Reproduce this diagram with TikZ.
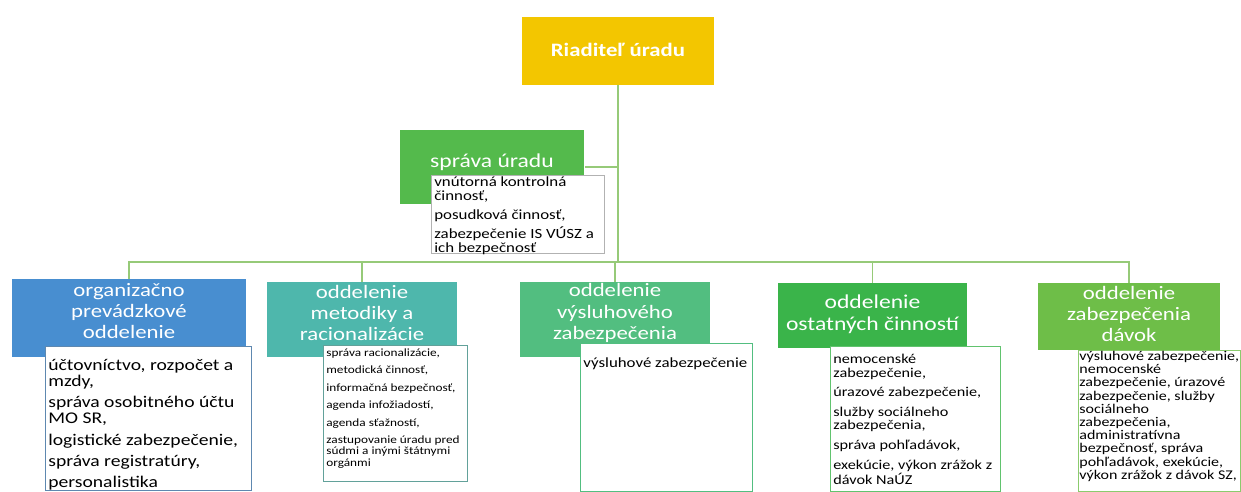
\documentclass[tikz,border=0pt]{standalone}
\usepackage{fontspec}
\setmainfont{Carlito}[FakeStretch=1.2]
\usetikzlibrary{positioning}

\definecolor{bossyellow}{RGB}{243,198,0}
\definecolor{sprgreen}{RGB}{84,186,76}
\definecolor{opoblue}{RGB}{72,142,208}
\definecolor{omrteal}{RGB}{78,183,172}
\definecolor{ovzgreen}{RGB}{82,190,128}
\definecolor{oocgreen}{RGB}{58,180,74}
\definecolor{ozdgreen}{RGB}{110,190,72}
\definecolor{linkgreen}{RGB}{150,202,120}

\tikzset{
  unit/.style={rectangle, inner sep=0pt},
  title/.style={text=white, align=center, inner sep=0pt, font=\fontsize{10.8}{12.2}\selectfont},
  sub/.style={rectangle, draw, fill=white, line width=0.6pt, inner sep=0pt, anchor=north west},
  items/.style={align=left, inner sep=0pt, anchor=north west},
  link/.style={draw=linkgreen, line width=0.8pt}
}

\begin{document}
\begin{tikzpicture}[x=0.02cm, y=-0.02cm]
  \fill[white] (0,0) rectangle (1241,491);
  \useasboundingbox (0,0) rectangle (1241,491);

  % vedenie
  \node[unit, fill=bossyellow, minimum width=3.84cm, minimum height=1.36cm] (boss) at (618,51) {};
  \node[title, font=\bfseries\fontsize{10.8}{12}\selectfont] (boss-t) at (618,50) {Riaditeľ úradu};

  \node[unit, fill=sprgreen, minimum width=3.7cm, minimum height=1.48cm] (spr) at (492,167) {};
  \node[title, font=\fontsize{11.2}{13}\selectfont] (spr-t) at (492,162) {správa úradu};
  \node[sub, draw=gray!60, minimum width=3.46cm, minimum height=1.56cm] (spr-w) at (431,175) {};
  \node[items, font=\fontsize{8}{8}\selectfont] (spr-l) [below right=0.2mm and 0.6mm of spr-w.north west]
    {vnútorná kontrolná\\činnosť,\\[3pt]posudková činnosť,\\[3pt]zabezpečenie IS VÚSZ a\\ich bezpečnosť};

  % oddelenia
  \node[unit, fill=opoblue, minimum width=4.68cm, minimum height=1.56cm] (opo) at (129,318) {};
  \node[title] (opo-t) at (129,311) {organizačno\\prevádzkové\\oddelenie};
  \node[sub, draw=opoblue!60!gray, minimum width=4.12cm, minimum height=2.88cm] (opo-w) at (45,346) {};
  \node[items, font=\fontsize{9.3}{9.2}\selectfont] (opo-l) [below right=2.6mm and 0.6mm of opo-w.north west]
    {účtovníctvo, rozpočet a\\mzdy,\\[2.8pt]správa osobitného účtu\\MO SR,\\[2.8pt]logistické zabezpečenie,\\[2.8pt]správa registratúry,\\[2.8pt]personalistika};

  \node[unit, fill=omrteal, minimum width=3.8cm, minimum height=1.5cm] (omr) at (362,319.5) {};
  \node[title] (omr-t) at (362,313) {oddelenie\\metodiky a\\racionalizácie};
  \node[sub, draw=omrteal!60!gray, minimum width=2.88cm, minimum height=2.72cm] (omr-w) at (323,345) {};
  \node[items, font=\fontsize{6.3}{6.5}\selectfont] (omr-l) [below right=0.7mm and 0.6mm of omr-w.north west]
    {správa racionalizácie,\\[3.4pt]metodická činnosť,\\[3.4pt]informačná bezpečnosť,\\[3.4pt]agenda infožiadostí,\\[3.4pt]agenda sťažností,\\[3.4pt]zastupovanie úradu pred\\súdmi a inými štátnymi\\orgánmi};

  \node[unit, fill=ovzgreen, minimum width=3.8cm, minimum height=1.5cm] (ovz) at (615,319.5) {};
  \node[title] (ovz-t) at (615,313) {oddelenie\\výsluhového\\zabezpečenia};
  \node[sub, draw=ovzgreen, minimum width=3.44cm, minimum height=2.96cm] (ovz-w) at (580,343) {};
  \node[items, font=\fontsize{8}{8}\selectfont] (ovz-l) [below right=2.8mm and 0.6mm of ovz-w.north west]
    {výsluhové zabezpečenie};

  \node[unit, fill=oocgreen, minimum width=3.78cm, minimum height=1.3cm] (ooc) at (872.5,315.5) {};
  \node[title, font=\fontsize{11.2}{12.5}\selectfont] (ooc-t) at (872.5,314) {oddelenie\\ostatných činností};
  \node[sub, draw=oocgreen!80, minimum width=3.4cm, minimum height=2.9cm] (ooc-w) at (830,346) {};
  \node[items, font=\fontsize{7.7}{7.6}\selectfont] (ooc-l) [below right=1.6mm and 0.6mm of ooc-w.north west]
    {nemocenské\\zabezpečenie,\\[3.6pt]úrazové zabezpečenie,\\[3.6pt]služby sociálneho\\zabezpečenia,\\[3.6pt]správa pohľadávok,\\[3.6pt]exekúcie, výkon zrážok z\\dávok NaÚZ};

  \node[unit, fill=ozdgreen, minimum width=3.64cm, minimum height=1.34cm] (ozd) at (1129,316.5) {};
  \node[title] (ozd-t) at (1129,314) {oddelenie\\zabezpečenia\\dávok};
  \node[sub, draw=ozdgreen!80, minimum width=3.24cm, minimum height=2.82cm] (ozd-w) at (1078,350) {};
  \node[items, font=\fontsize{7.6}{7.5}\selectfont] (ozd-l) [below right=0.2mm and 0.2mm of ozd-w.north west]
    {výsluhové zabezpečenie,\\nemocenské\\zabezpečenie, úrazové\\zabezpečenie, služby\\sociálneho\\zabezpečenia,\\administratívna\\bezpečnosť, správa\\pohľadávok, exekúcie,\\výkon zrážok z dávok SZ,};

  % spojnice
  \coordinate (hub) at (618,262);
  \draw[link] (boss.south) -- (hub);
  \draw[link] (spr.east) -- (spr.east -| hub);
  \draw[link]
    (hub) -| (opo.north)
    (hub) -| (omr.north)
    (hub) -| (ovz.north)
    (hub) -| (ooc.north)
    (hub) -| (ozd.north);
\end{tikzpicture}
\end{document}
